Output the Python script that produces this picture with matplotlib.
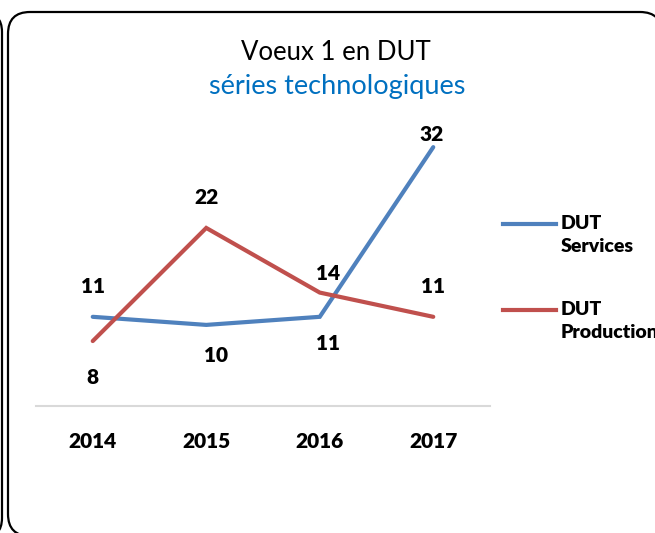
import matplotlib.pyplot as plt
from matplotlib.patches import PathPatch
from matplotlib.path import Path
from matplotlib.lines import Line2D

years = ['2014', '2015', '2016', '2017']
services = [11, 10, 11, 32]
production = [8, 22, 14, 11]
series_names = ['DUT\nServices', 'DUT\nProduction']

# label offsets in points (dx, dy), tuned by eye against the original
services_offsets = [(0, 22), (7, -22), (6, -19), (-1, 9)]
production_offsets = [(0, -26), (0, 22), (6, 14), (0, 22)]

blue = '#4F81BD'
red = '#C0504D'
W, H = 655, 533

plt.rcParams['font.family'] = ['Lato', 'DejaVu Sans']


def p(x, y):
    # pixels from the top left corner -> figure fractions
    return (x / W, 1 - y / H)


def frame_patch(fig, verts, codes):
    return PathPatch(Path([p(*v) for v in verts], codes), transform=fig.transFigure,
                     fill=False, edgecolor='black', linewidth=1.6)


fig = plt.figure(figsize=(6.55, 5.33), dpi=100)

# main frame: only the parts that fall inside the picture
x0, x1, top, bottom, r = 8, 662, 12, 536, 22
main_verts = [(x1, top + r), (x1, top), (x1 - r, top),
              (x0 + r, top), (x0, top), (x0, top + r),
              (x0, bottom - r), (x0, bottom), (x0 + r, bottom)]
main_codes = [Path.MOVETO, Path.CURVE3, Path.CURVE3,
              Path.LINETO, Path.CURVE3, Path.CURVE3,
              Path.LINETO, Path.CURVE3, Path.CURVE3]
fig.patches.append(frame_patch(fig, main_verts, main_codes))

# right edge of the neighbouring frame
ex, r2, bottom2 = 2, 20, 538
side_verts = [(ex - r2, top), (ex, top), (ex, top + r2),
              (ex, bottom2 - r2), (ex, bottom2), (ex - r2, bottom2)]
side_codes = [Path.MOVETO, Path.CURVE3, Path.CURVE3,
              Path.LINETO, Path.CURVE3, Path.CURVE3]
fig.patches.append(frame_patch(fig, side_verts, side_codes))

ax = fig.add_axes([36 / W, 1 - 405.7 / H, 454 / W, 35 * 8.08 / H])
ax.set_facecolor('none')
x = list(range(len(years)))

ax.plot(x, services, color=blue, linewidth=3, solid_capstyle='round', solid_joinstyle='miter')
ax.plot(x, production, color=red, linewidth=3, solid_capstyle='round', solid_joinstyle='miter')

for xi, v, off in zip(x, services, services_offsets):
    ax.annotate(str(v), (xi, v), xytext=off, textcoords='offset points',
                ha='center', va='center', fontsize=15, fontweight='heavy')
for xi, v, off in zip(x, production, production_offsets):
    ax.annotate(str(v), (xi, v), xytext=off, textcoords='offset points',
                ha='center', va='center', fontsize=15, fontweight='heavy')

ax.set_xlim(-0.5, 3.5)
ax.set_ylim(0, 35)
ax.set_xticks(x)
ax.set_xticklabels(years, fontsize=15, fontweight='heavy')
ax.tick_params(axis='x', length=0, pad=19)
ax.set_yticks([])
for s in ['left', 'right', 'top']:
    ax.spines[s].set_visible(False)
ax.spines['bottom'].set_color('#D9D9D9')
ax.spines['bottom'].set_linewidth(1.5)

# title
fig.text(336 / W, 1 - 60 / H, 'Voeux 1 en DUT', ha='center', va='baseline',
         fontsize=18.5, color='black')
fig.text(337 / W, 1 - 94 / H, 'séries technologiques', ha='center', va='baseline',
         fontsize=19.5, color='#0070C0')

# legend
for name, col, ly in zip(series_names, [blue, red], [224, 310]):
    fig.add_artist(Line2D([503 / W, 556 / W], [1 - ly / H, 1 - ly / H],
                          color=col, linewidth=3))
    fig.text(561 / W, 1 - (ly - 9) / H, name, ha='left', va='top',
             fontsize=14, fontweight='heavy', linespacing=1.4)

fig.savefig('out.png', dpi=100, bbox_inches=None)
